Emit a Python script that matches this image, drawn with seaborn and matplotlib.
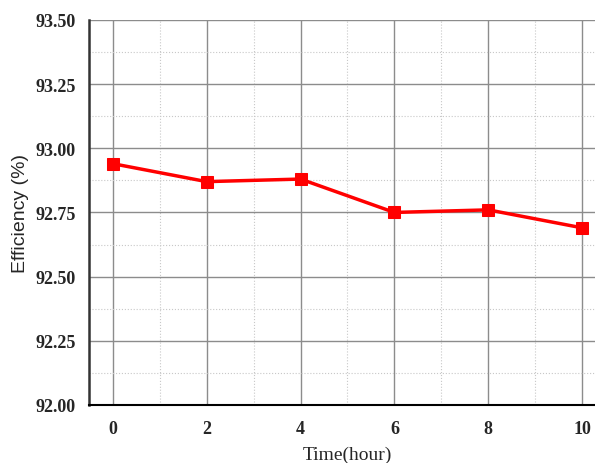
import matplotlib
matplotlib.use("Agg")
import matplotlib.pyplot as plt
import seaborn as sns
import pandas as pd
from matplotlib.ticker import MultipleLocator

# data
time_hour = [0, 2, 4, 6, 8, 10]
efficiency = [92.94, 92.87, 92.88, 92.75, 92.76, 92.69]

df = pd.DataFrame({"Time(hour)": time_hour, "Efficiency (%)": efficiency})

sns.set_style("white")

fig = plt.figure(figsize=(5.95, 4.64), dpi=100)
ax = fig.add_axes([0.150, 0.125, 0.868, 0.830])

sns.lineplot(data=df, x="Time(hour)", y="Efficiency (%)", ax=ax,
             color="#ff0000", linewidth=2.5, marker="s", markersize=8,
             markeredgecolor="#ff0000", zorder=5)

ax.set_xlim(-0.5, 10.5)
ax.set_ylim(92.0, 93.5)
ax.xaxis.set_major_locator(MultipleLocator(2))
ax.xaxis.set_minor_locator(MultipleLocator(1))
ax.yaxis.set_major_locator(MultipleLocator(0.25))
ax.yaxis.set_minor_locator(MultipleLocator(0.125))

# grid lines
ax.grid(which="major", color="#8c8c8c", linewidth=1.0, linestyle="-")
ax.grid(which="minor", color="#c8c8c8", linewidth=0.8, linestyle=":")
ax.set_axisbelow(True)

for s in ["top", "right"]:
    ax.spines[s].set_visible(False)
ax.spines["left"].set_linewidth(1.8)
ax.spines["bottom"].set_linewidth(1.5)
ax.spines["left"].set_color("#333333")
ax.spines["bottom"].set_color("black")

ax.tick_params(which="major", direction="out", length=6, width=1.2)
ax.tick_params(which="minor", direction="out", length=4, width=1.0)
ax.tick_params(axis="both", labelsize=13)
ax.tick_params(axis="x", pad=5)

ax.set_yticks([92.0, 92.25, 92.5, 92.75, 93.0, 93.25, 93.5])
ax.set_yticklabels(["92.00", "92.25", "92.50", "92.75", "93.00", "93.25", "93.50"])
for lbl in ax.get_xticklabels() + ax.get_yticklabels():
    lbl.set_fontfamily("Liberation Serif")
    lbl.set_fontweight("bold")

ax.set_xlabel("Time(hour)", fontfamily="Liberation Serif", fontsize=14, labelpad=6)
ax.set_ylabel("Efficiency (%)", fontfamily="Liberation Sans", fontsize=14, labelpad=5)

fig.savefig("out.png", dpi=100)
